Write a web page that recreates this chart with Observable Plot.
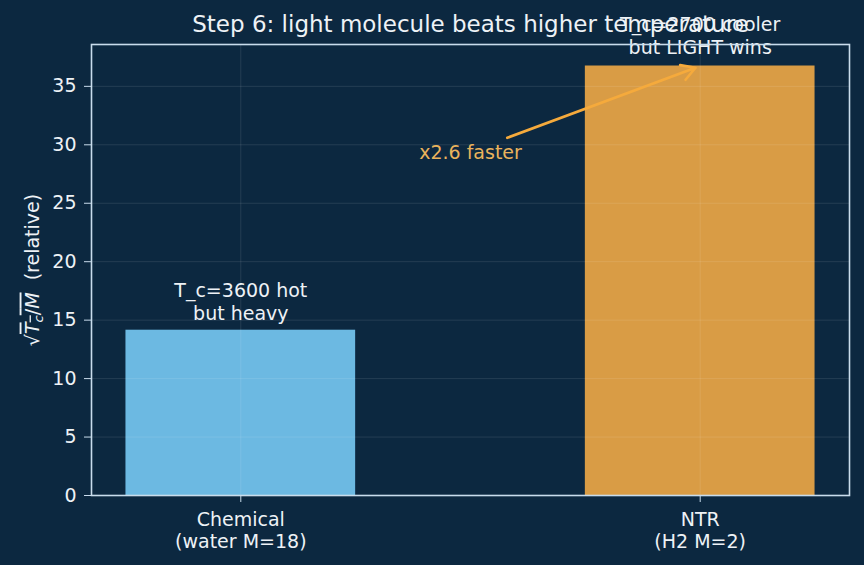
<!DOCTYPE html>
<html>
<head>
<meta charset="utf-8">
<script src="https://cdn.jsdelivr.net/npm/d3@7"></script>
<script src="https://cdn.jsdelivr.net/npm/@observablehq/plot@0.6"></script>
<style>
  html, body { margin: 0; padding: 0; background: #0c2840; }
  #chart svg { display: block; }
</style>
</head>
<body>
<div id="chart"></div>
<script>
// ---- data ----
const categories = ["Chemical\n(water M=18)", "NTR\n(H2 M=2)"];
const values = [14.14, 36.74];
const notes = ["T_c=3600 hot\nbut heavy", "T_c=2700 cooler\nbut LIGHT wins"];
const barColors = ["#6cb9e2", "#d99c45"];
const titleText = "Step 6: light molecule beats higher temperature";
const ratioLabel = "x2.6 faster";
const ratioArrow = {x1: 0.58, y1: 30.6, x2: 1, y2: 36.74};
const ratioText = {x: 0.5, y: 29.3};
const yTicks = [0, 5, 10, 15, 20, 25, 30, 35];

const rows = categories.map((c, i) => ({i, cat: c, v: values[i], note: notes[i], color: barColors[i]}));

const fg = "#eef2f6";
const spine = "#c9dcec";
const orange = "#f5aa3c";
const fs = 19;

const plot = Plot.plot({
  width: 864,
  height: 565,
  marginLeft: 91,
  marginRight: 15,
  marginTop: 44,
  marginBottom: 70,
  style: {background: "#0c2840", color: fg, fontFamily: "DejaVu Sans, sans-serif", fontSize: fs + "px"},
  x: {domain: [-0.325, 1.325], axis: null},
  y: {domain: [0, 38.58], axis: null},
  marks: [
    Plot.rect(rows, {x1: d => d.i - 0.25, x2: d => d.i + 0.25, y1: 0, y2: "v", fill: "color"}),
    Plot.gridY(yTicks, {stroke: "#ffffff", strokeOpacity: 0.13, strokeWidth: 0.8}),
    Plot.gridX(rows.map(d => d.i), {stroke: "#ffffff", strokeOpacity: 0.13, strokeWidth: 0.8}),
    Plot.axisY(yTicks, {tickSize: 7, tickPadding: 8, stroke: spine, fill: fg, fontSize: fs, label: null, tickFormat: d => d}),
    Plot.axisX(rows.map(d => d.i), {tickSize: 7, tickPadding: 7, stroke: spine, fill: fg, fontSize: fs, label: null, lineHeight: 1.2, tickFormat: d => categories[d]}),
    Plot.text(rows, {x: "i", y: d => d.v + 0.9 + (d.i === 1 ? 0.15 : 0), text: "note", lineAnchor: "bottom", lineHeight: 1.2, fill: fg, fontSize: fs}),
    Plot.arrow([ratioArrow], {x1: "x1", y1: "y1", x2: "x2", y2: "y2", stroke: orange, strokeWidth: 2.6, headLength: 9, insetEnd: 5, bend: false}),
    Plot.text([ratioText], {x: "x", y: "y", text: () => ratioLabel, fill: "#eab35c", fontSize: fs}),
    Plot.frame({stroke: spine, strokeWidth: 1.6}),
    Plot.text([titleText], {frameAnchor: "top", dy: -20, lineAnchor: "middle", fill: fg, fontSize: 23, text: d => d}),
    Plot.text(["ylabel"], {frameAnchor: "left", textAnchor: "middle", dx: -59, rotate: -90, fill: fg, fontSize: fs, text: d => d, className: "ylab"})
  ]
});

// rebuild the y label with math-like formatting
const lab = d3.select(plot).select(".ylab text");
lab.text(null);
lab.append("tspan").text("√");
const over = lab.append("tspan").style("text-decoration", "overline");
over.append("tspan").attr("font-style", "italic").text("T");
over.append("tspan").attr("font-style", "italic").attr("font-size", "13").attr("dy", "4").text("c");
over.append("tspan").attr("dy", "-4").text("/");
over.append("tspan").attr("font-style", "italic").text("M");
lab.append("tspan").text("\u00a0\u00a0(relative)");

document.getElementById("chart").appendChild(plot);
</script>
</body>
</html>
